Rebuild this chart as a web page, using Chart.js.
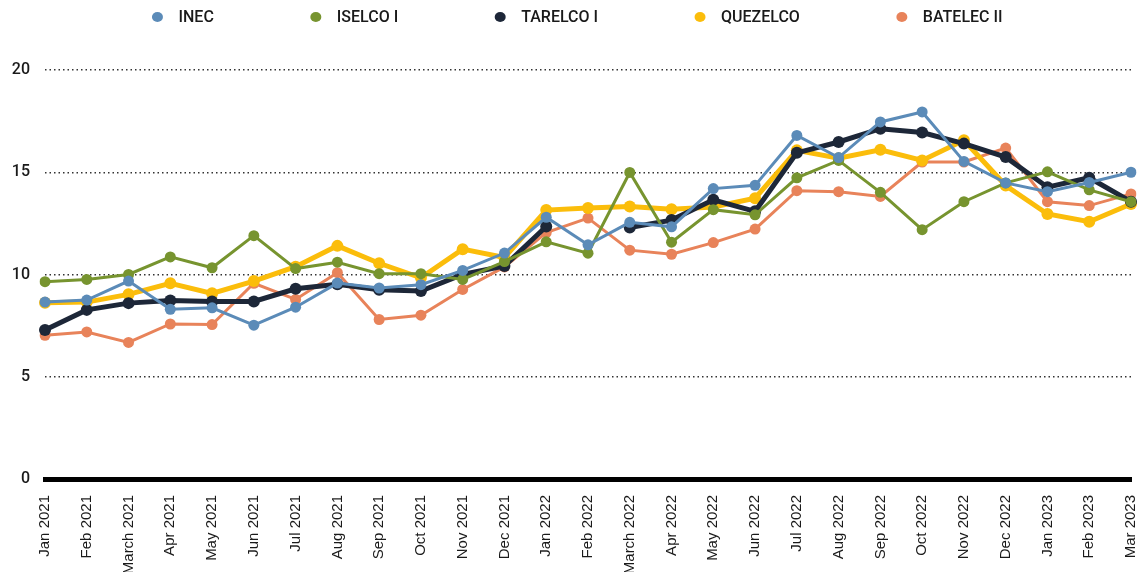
<!DOCTYPE html>
<html>
<head>
<meta charset="utf-8">
<script src="https://cdn.jsdelivr.net/npm/chart.js@4.4.0/dist/chart.umd.min.js"></script>
<style>
  html, body { margin: 0; padding: 0; background: #fff; }
  #wrap { width: 1140px; height: 572px; position: relative; }
</style>
</head>
<body>
<div id="wrap"><canvas id="c"></canvas></div>
<script>
const categories = ["Jan 2021","Feb 2021","March 2021","Apr 2021","May 2021","Jun 2021","Jul 2021","Aug 2021","Sep 2021","Oct 2021","Nov 2021","Dec 2021","Jan 2022","Feb 2022","March 2022","Apr 2022","May 2022","Jun 2022","Jul 2022","Aug 2022","Sep 2022","Oct 2022","Nov 2022","Dec 2022","Jan 2023","Feb 2023","Mar 2023"];

const inec     = [8.65,8.75,9.68,8.30,8.37,7.52,8.40,9.58,9.34,9.50,10.20,11.05,12.80,11.45,12.55,12.33,14.20,14.36,16.80,15.72,17.46,17.95,15.53,14.48,14.05,14.50,15.00];
const iselco   = [9.65,9.76,10.00,10.86,10.33,11.90,10.29,10.60,10.04,10.04,9.76,10.63,11.60,11.04,14.99,11.58,13.17,12.92,14.73,15.58,14.02,12.19,13.56,14.48,15.02,14.14,13.56];
const tarelco  = [7.29,8.27,8.60,8.73,8.68,8.68,9.30,9.52,9.25,9.19,10.00,10.42,12.35,null,12.30,12.66,13.65,13.09,15.95,16.48,17.13,16.94,16.40,15.74,14.27,14.73,13.56];
const quezelco = [8.62,8.65,9.03,9.57,9.08,9.68,10.38,11.40,10.55,9.84,11.24,10.83,13.15,13.25,13.32,13.19,13.30,13.73,16.07,15.69,16.10,15.58,16.56,14.35,12.96,12.58,13.45];
const batelec  = [7.03,7.19,6.68,7.58,7.55,9.57,8.78,10.09,7.80,8.01,9.27,10.37,12.05,12.76,11.19,10.99,11.56,12.22,14.10,14.05,13.82,15.50,15.50,16.18,13.56,13.37,13.94];

const seriesNames = ["INEC","ISELCO I","TARELCO I","QUEZELCO","BATELEC II"];
const yTicks = [0,5,10,15,20];

const colors = ["#5b8bb8","#77942f","#1d2738","#fbbd0b","#e8835a"];
const widths = [3,3,5,5,3];
const radii = [5.5,5.5,6,6,5.5];
const values = [inec, iselco, tarelco, quezelco, batelec];

const datasets = seriesNames.map((name, i) => ({
  label: name,
  data: values[i],
  borderColor: colors[i],
  backgroundColor: colors[i],
  pointBackgroundColor: colors[i],
  pointBorderColor: colors[i],
  pointBorderWidth: 0,
  pointRadius: radii[i],
  borderWidth: widths[i],
  tension: 0,
  spanGaps: false
}));

const customLegend = {
  id: 'customLegend',
  afterDraw(chart) {
    const ctx = chart.ctx;
    ctx.save();
    ctx.font = '500 16px Roboto';
    ctx.textBaseline = 'middle';
    const gap = 102, markerToText = 21;
    const items = chart.data.datasets.map(d => ({label: d.label, color: d.borderColor, w: ctx.measureText(d.label).width}));
    let total = 0;
    items.forEach((it, i) => { total += markerToText + it.w + (i < items.length - 1 ? gap : 0); });
    let x = 574 - total / 2 + 6;
    const y = 17;
    items.forEach(it => {
      ctx.fillStyle = it.color;
      ctx.beginPath();
      ctx.ellipse(x, y, 5.5, 5, 0, 0, Math.PI * 2);
      ctx.fill();
      ctx.fillStyle = '#1a1a1a';
      ctx.fillText(it.label, x + markerToText, y + 1);
      x += markerToText + it.w + gap;
    });
    ctx.restore();
  }
};

new Chart(document.getElementById('c'), {
  type: 'line',
  data: { labels: categories, datasets },
  plugins: [customLegend],
  options: {
    responsive: true,
    maintainAspectRatio: false,
    animation: false,
    layout: { padding: { top: 70, left: 10, right: 9, bottom: 0 } },
    plugins: { legend: { display: false }, tooltip: { enabled: false } },
    scales: {
      x: {
        offset: false,
        grid: { display: false },
        border: { display: true, width: 5, color: '#000' },
        ticks: {
          minRotation: 90, maxRotation: 90, autoSkip: false,
          padding: 8,
          color: '#1a1a1a',
          font: { family: 'Liberation Sans', size: 15 }
        },
        afterFit(scale) { scale.height = 93; scale.paddingLeft = 0; scale.paddingRight = 0; }
      },
      y: {
        min: 0, max: 20,
        afterBuildTicks(scale) { scale.ticks = yTicks.map(v => ({ value: v })); },
        grid: {
          drawTicks: false,
          lineWidth: 1.5,
          color: (c) => (c.tick && c.tick.value === 0) ? 'rgba(0,0,0,0)' : '#333'
        },
        border: { display: false, dash: [1.5, 3] },
        ticks: {
          padding: 15,
          color: '#1a1a1a',
          font: { family: 'Roboto', size: 16, weight: '500' }
        },
        afterFit(scale) { scale.width = 35; scale.paddingTop = 0; scale.paddingBottom = 0; }
      }
    }
  }
});
</script>
</body>
</html>
